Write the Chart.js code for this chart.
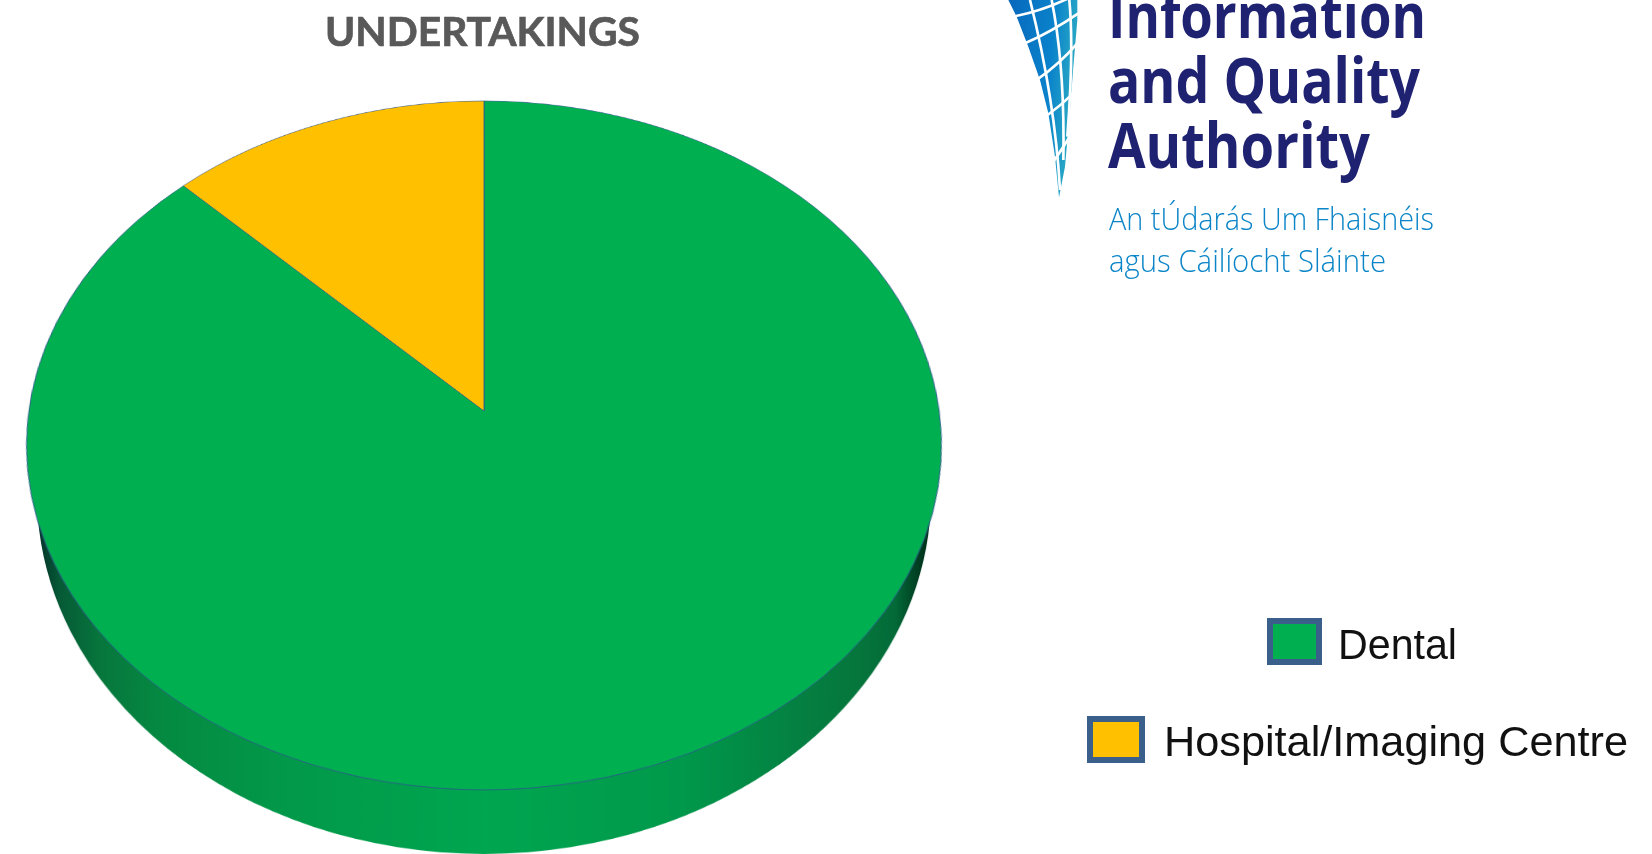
<!DOCTYPE html>
<html>
<head>
<meta charset="utf-8">
<title>Undertakings</title>
<script src="https://cdn.jsdelivr.net/npm/chart.js@4"></script>
<style>
  html, body { margin: 0; padding: 0; background: #fff; overflow: hidden; }
  #page { position: relative; width: 1652px; height: 854px; overflow: hidden; }
  canvas { position: absolute; }
  /* disc side wall, an ellipse sitting lower than the top face */
  #pieWall { left: 13.5px; top: 25px; transform-origin: 470px 470px; transform: scale(0.9933, 0.7978); }
  /* top face, tilted away from the viewer so the centre sits above the middle */
  #pieTop { left: 13.5px; top: -59px; transform-origin: 470px 470px;
    transform: matrix3d(1.0116,0,0,0, 0,0.7578,0,-0.000222, 0,0,1,0, 0,0,0,1); }
  #labels { position: absolute; left: 0; top: 0; }
</style>
</head>
<body>
<div id="page">
  <canvas id="pieWall" width="940" height="940"></canvas>
  <canvas id="pieTop" width="940" height="940"></canvas>

  <svg id="labels" width="1652" height="854" xmlns="http://www.w3.org/2000/svg">
    <defs>
      <linearGradient id="markFill" x1="0" y1="0" x2="1" y2="0.25">
        <stop offset="0" stop-color="#0768bb"/>
        <stop offset="0.65" stop-color="#0a82cb"/>
        <stop offset="1" stop-color="#2aa9c4"/>
      </linearGradient>
    </defs>

    <text x="325" y="46" font-family="Lato" font-weight="700" font-size="41" fill="#595959" stroke="#595959" stroke-width="0.7" textLength="315" lengthAdjust="spacingAndGlyphs">UNDERTAKINGS</text>

    <!-- logo mark -->
    <svg x="980" y="0" width="110" height="200" viewBox="0 0 330 600">
      <path d="M85 0 L110 50 L145 140 L180 240 L205 340 L225 470 L237 592 L255 500 L270 330 L280 200 L292 60 L292 0 Z" fill="url(#markFill)"/>
      <g fill="none" stroke="#fff" stroke-width="8">
        <path d="M108 48 Q200 30 295 -20"/>
        <path d="M135 130 Q215 95 295 40"/>
        <path d="M172 238 Q235 195 292 130"/>
        <path d="M203 345 Q245 315 285 275"/>
        <path d="M222 482 Q245 450 272 405"/>
        <path d="M240 570 Q225 300 150 0"/>
        <path d="M250 480 Q255 200 215 0"/>
        <path d="M262 410 Q282 150 268 0"/>
      </g>
    </svg>

    <g font-family="'Open Sans'" font-weight="700" font-size="62" fill="#1f2271">
      <text x="1108" y="38" textLength="318" lengthAdjust="spacingAndGlyphs">Information</text>
      <text x="1108" y="103" textLength="312" lengthAdjust="spacingAndGlyphs">and Quality</text>
      <text x="1108" y="168" textLength="262" lengthAdjust="spacingAndGlyphs">Authority</text>
    </g>
    <g font-family="'Open Sans'" font-weight="300" font-size="32" fill="#0b85c8">
      <text x="1109" y="230" textLength="325" lengthAdjust="spacingAndGlyphs">An tÚdarás Um Fhaisnéis</text>
      <text x="1109" y="272" textLength="277" lengthAdjust="spacingAndGlyphs">agus Cáilíocht Sláinte</text>
    </g>

    <g id="legend"></g>
  </svg>
</div>

<script>
  const categories = ['Dental', 'Hospital/Imaging Centre'];
  const undertakings = [7, 1];
  const sliceColors = ['#00B050', '#FFC000'];

  // swatch corner and text start for each legend row
  const legendBoxX = [1270, 1090];
  const legendBoxY = [621, 719];
  const legendBoxW = [49, 52];
  const legendBoxH = [41, 41];
  const legendTextX = [1338, 1164];
  const legendTextY = [659, 756];
  const legendTextW = [119, 464];

  const commonOptions = {
    responsive: false,
    animation: false,
    events: [],
    layout: { padding: 0 },
    plugins: { legend: { display: false }, tooltip: { enabled: false }, title: { display: false } }
  };

  // Side of the disc: horizontal shading, darkest at both ends
  function wallGradient(context) {
    const area = context.chart.chartArea;
    if (!area) return '#009A4B';
    const g = context.chart.ctx.createLinearGradient(20, 0, 920, 0);
    g.addColorStop(0, '#04302a');
    g.addColorStop(0.025, '#065a36');
    g.addColorStop(0.07, '#07763c');
    g.addColorStop(0.14, '#058a42');
    g.addColorStop(0.28, '#02994a');
    g.addColorStop(0.5, '#00a650');
    g.addColorStop(0.72, '#00994b');
    g.addColorStop(0.86, '#057f41');
    g.addColorStop(0.92, '#06763c');
    g.addColorStop(0.96, '#036a38');
    g.addColorStop(0.985, '#003f22');
    g.addColorStop(1, '#002f1a');
    return g;
  }

  new Chart(document.getElementById('pieWall'), {
    type: 'pie',
    data: {
      labels: categories,
      datasets: [{
        data: undertakings,
        backgroundColor: wallGradient,
        borderWidth: 0,
        hoverOffset: 0,
        radius: 450
      }]
    },
    options: commonOptions
  });

  new Chart(document.getElementById('pieTop'), {
    type: 'pie',
    data: {
      labels: categories,
      datasets: [{
        data: undertakings,
        backgroundColor: sliceColors,
        borderColor: 'rgba(47, 82, 143, 0.8)',
        borderWidth: 1,
        hoverOffset: 0,
        radius: 450
      }]
    },
    options: commonOptions
  });

  // legend rows, built from the same arrays as the pie
  const svgNS = 'http://www.w3.org/2000/svg';
  const legend = document.getElementById('legend');
  categories.forEach(function (name, i) {
    const box = document.createElementNS(svgNS, 'rect');
    box.setAttribute('x', legendBoxX[i]);
    box.setAttribute('y', legendBoxY[i]);
    box.setAttribute('width', legendBoxW[i]);
    box.setAttribute('height', legendBoxH[i]);
    box.setAttribute('fill', sliceColors[i]);
    box.setAttribute('stroke', '#3A5F8B');
    box.setAttribute('stroke-width', 6);
    legend.appendChild(box);

    const label = document.createElementNS(svgNS, 'text');
    label.setAttribute('x', legendTextX[i]);
    label.setAttribute('y', legendTextY[i]);
    label.setAttribute('font-family', "'Liberation Sans'");
    label.setAttribute('font-size', 42);
    label.setAttribute('fill', '#111');
    label.setAttribute('textLength', legendTextW[i]);
    label.setAttribute('lengthAdjust', 'spacingAndGlyphs');
    label.textContent = name;
    legend.appendChild(label);
  });
</script>
</body>
</html>
